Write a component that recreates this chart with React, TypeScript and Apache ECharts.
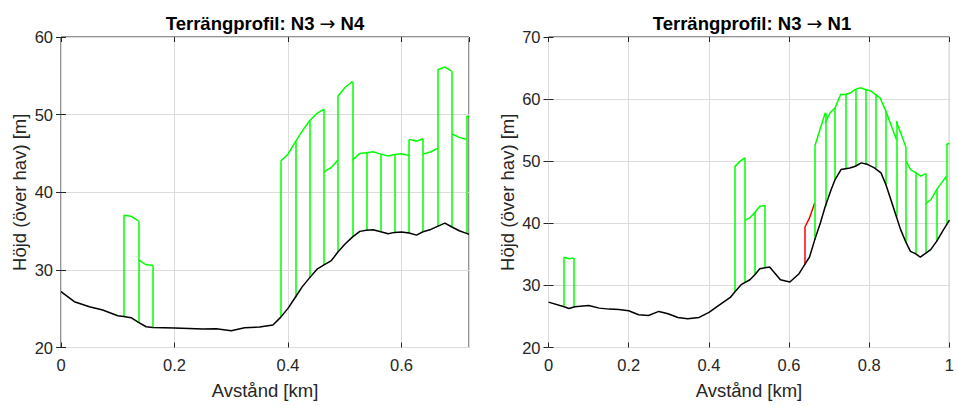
import React, { useEffect, useRef } from "react";
import * as echarts from "echarts";

// ---------- Left profile: N3 -> N4 ----------
const leftTerrainX = [0, 0.0235, 0.05, 0.0735, 0.1, 0.1106, 0.1235, 0.1365, 0.15, 0.1618, 0.2, 0.25, 0.2735, 0.3, 0.3235, 0.35, 0.3735, 0.387, 0.4, 0.413, 0.4253, 0.438, 0.4512, 0.4635, 0.4765, 0.488, 0.501, 0.5135, 0.5265, 0.538, 0.55, 0.5635, 0.5765, 0.588, 0.6, 0.6135, 0.6265, 0.638, 0.6518, 0.6635, 0.6765, 0.689, 0.7018, 0.7147, 0.719];
const leftTerrainY = [27.2, 25.9, 25.26, 24.83, 24.1, 24.0, 23.84, 23.23, 22.67, 22.59, 22.5, 22.37, 22.41, 22.16, 22.54, 22.63, 22.89, 23.88, 25.04, 26.47, 27.84, 28.97, 30.09, 30.65, 31.2, 32.3, 33.36, 34.22, 34.96, 35.09, 35.17, 34.91, 34.66, 34.83, 34.87, 34.74, 34.48, 34.91, 35.21, 35.6, 36.03, 35.52, 35.04, 34.7, 34.57];

// obstacle tops (green outline), one list of [x, y] per piece
const leftTops: number[][][] = [
  [[0.1106, 37.03], [0.1235, 36.9], [0.1365, 36.3]],
  [[0.1365, 31.3], [0.15, 30.65], [0.1618, 30.6]],
  [[0.387, 44.0], [0.4, 44.9], [0.413, 46.5], [0.4253, 47.9], [0.438, 49.2], [0.4512, 50.17], [0.4635, 50.69]],
  [[0.4635, 42.63], [0.4765, 43.2], [0.488, 44.14]],
  [[0.488, 52.41], [0.501, 53.53], [0.5135, 54.27]],
  [[0.5135, 44.14], [0.5265, 45.0], [0.538, 45.09], [0.55, 45.22], [0.5635, 44.91], [0.5765, 44.66], [0.588, 44.87], [0.6, 44.96], [0.6135, 44.74]],
  [[0.6135, 46.81], [0.6265, 46.59], [0.638, 46.9]],
  [[0.638, 44.91], [0.6518, 45.22], [0.6635, 45.65]],
  [[0.6635, 55.78], [0.6765, 56.12], [0.689, 55.56]],
  [[0.689, 47.5], [0.7018, 47.07], [0.7147, 46.8]],
  [[0.7147, 49.83], [0.719, 49.66]],
];
// vertical posts: [x, ground, top]
const leftPosts: number[][] = [
  [0.1106, 24.0, 37.03], [0.1365, 23.23, 36.3], [0.1618, 22.59, 30.6],
  [0.387, 23.88, 44.0], [0.413, 26.47, 46.5], [0.438, 28.97, 49.2], [0.4635, 30.65, 50.69],
  [0.488, 32.3, 52.41], [0.5135, 34.22, 54.27], [0.538, 35.09, 45.09], [0.5635, 34.91, 44.91],
  [0.588, 34.83, 44.87], [0.6135, 34.74, 46.81], [0.638, 34.91, 46.9], [0.6635, 35.6, 55.78],
  [0.689, 35.52, 55.56], [0.7147, 34.7, 49.83],
];

// ---------- Right profile: N3 -> N1 ----------
const rightTerrainX = [0, 0.0368, 0.0515, 0.0654, 0.1005, 0.1266, 0.1511, 0.1757, 0.2, 0.2247, 0.2492, 0.2753, 0.2982, 0.3227, 0.3472, 0.3758, 0.4003, 0.4248, 0.4534, 0.4657, 0.4804, 0.5025, 0.5147, 0.527, 0.5515, 0.5784, 0.6021, 0.625, 0.6389, 0.6511, 0.6642, 0.6781, 0.6904, 0.7051, 0.7149, 0.7296, 0.7516, 0.7655, 0.7802, 0.7966, 0.8129, 0.8293, 0.8415, 0.8538, 0.866, 0.8783, 0.8905, 0.9028, 0.915, 0.9273, 0.9395, 0.9534, 0.9681, 0.9828, 1.0];
const rightTerrainY = [27.31, 26.61, 26.29, 26.56, 26.77, 26.34, 26.18, 26.13, 25.91, 25.27, 25.16, 25.81, 25.43, 24.84, 24.62, 24.84, 25.65, 26.77, 28.06, 29.03, 30.11, 30.91, 31.72, 32.69, 32.96, 30.91, 30.54, 31.88, 33.33, 34.57, 37.37, 40.05, 42.74, 45.43, 47.04, 48.66, 48.92, 49.19, 49.73, 49.46, 48.92, 48.12, 46.24, 43.82, 41.4, 38.98, 37.1, 35.48, 35.11, 34.57, 35.11, 35.75, 37.1, 38.71, 40.5];

const rightTops: number[][][] = [
  [[0.0384, 34.52], [0.0515, 34.3], [0.0629, 34.4]],
  [[0.464, 49.09], [0.478, 50.0], [0.49, 50.54]],
  [[0.49, 40.48], [0.502, 40.86], [0.515, 41.77], [0.527, 42.74], [0.54, 42.85]],
  [[0.6642, 52.42], [0.6773, 55.11], [0.6904, 57.8]],
  [[0.6904, 56.18], [0.7026, 57.8], [0.7149, 58.6], [0.7288, 60.75], [0.741, 60.75], [0.7533, 61.02], [0.7655, 61.56], [0.7778, 61.83], [0.7908, 61.56], [0.8047, 61.29], [0.8154, 60.75], [0.8268, 60.22], [0.8415, 58.06], [0.8538, 55.91], [0.8676, 53.49]],
  [[0.8676, 56.45], [0.8799, 54.3], [0.8922, 52.15]],
  [[0.8922, 50.0], [0.9028, 48.66], [0.9167, 48.12], [0.9289, 47.58], [0.9412, 48.01]],
  [[0.9412, 43.17], [0.9542, 43.82], [0.9681, 45.43], [0.9804, 46.51], [0.9926, 47.58]],
  [[0.9926, 52.69], [1.0, 52.9]],
];
const rightPosts: number[][] = [
  [0.0384, 26.6, 34.52], [0.0629, 26.45, 34.4],
  [0.464, 29.0, 49.09], [0.49, 30.5, 50.54], [0.515, 31.72, 41.77], [0.54, 32.9, 42.85],
  [0.6642, 37.37, 52.42], [0.6904, 42.74, 57.8], [0.7149, 47.04, 58.6], [0.741, 48.8, 60.75],
  [0.7655, 49.19, 61.56], [0.7908, 49.5, 61.56], [0.8154, 48.85, 60.75], [0.8415, 46.24, 58.06],
  [0.8676, 41.1, 56.45], [0.8922, 37.0, 52.15], [0.9167, 35.05, 48.12], [0.9412, 35.15, 48.01],
  [0.9681, 37.1, 45.43], [0.9926, 39.9, 52.69],
];
// blocked piece (red)
const rightRedTops: number[][][] = [[[0.6397, 39.41], [0.651, 40.86], [0.664, 43.28]]];
const rightRedPosts: number[][] = [[0.6397, 33.33, 39.41]];

const leftTitleParts = ["Terrängprofil: N3 ", "→", " N4"];
const rightTitleParts = ["Terrängprofil: N3 ", "→", " N1"];
const xName = "Avstånd [km]";
const yName = "Höjd (över hav) [m]";
const leftXMax = 0.719;
const rightXMax = 1;
const leftYRange = [20, 60];
const rightYRange = [20, 70];

const FONT = '"Liberation Sans", Arial, Helvetica, sans-serif';
const AX = "#262626";
const GRIDC = "#dcdcdc";
const GREEN = "#00ff00";
const RED = "#ff0000";

function xAxes(gridIndex: number, max: number, hideMax: boolean) {
  const base = {
    type: "value" as const,
    gridIndex,
    min: 0,
    max,
    interval: 0.2,
    axisLine: { show: false },
    axisTick: { show: true, inside: true, length: 5, lineStyle: { color: AX, width: 1 } },
  };
  return [
    {
      ...base,
      position: "bottom",
      axisLabel: {
        show: true, color: AX, fontSize: 16.5, fontFamily: FONT, margin: 9,
        showMaxLabel: !hideMax,
        formatter: (v: number) => String(Math.round(v * 10) / 10),
      },
      splitLine: { show: true, lineStyle: { color: GRIDC, width: 1 } },
      name: xName,
      nameLocation: "middle",
      nameGap: 33,
      nameTextStyle: { color: AX, fontSize: 18.5, fontFamily: FONT },
    },
    { ...base, position: "top", axisLabel: { show: false }, splitLine: { show: false } },
  ];
}

function yAxes(gridIndex: number, range: number[]) {
  const base = {
    type: "value" as const,
    gridIndex,
    min: range[0],
    max: range[1],
    interval: 10,
    axisLine: { show: false },
    axisTick: { show: true, inside: true, length: 5, lineStyle: { color: AX, width: 1 } },
  };
  return [
    {
      ...base,
      position: "left",
      axisLabel: { show: true, color: AX, fontSize: 16.5, fontFamily: FONT, margin: 8 },
      splitLine: { show: true, lineStyle: { color: GRIDC, width: 1 } },
      name: yName,
      nameLocation: "middle",
      nameGap: 32,
      nameTextStyle: { color: AX, fontSize: 18.5, fontFamily: FONT },
    },
    { ...base, position: "right", axisLabel: { show: false }, splitLine: { show: false } },
  ];
}

function profileSeries(axisIdx: number, tops: number[][][], posts: number[][], color: string, z: number) {
  return [
    {
      type: "lines", coordinateSystem: "cartesian2d", xAxisIndex: axisIdx, yAxisIndex: axisIdx,
      polyline: true, silent: true, z,
      data: tops.map((s) => ({ coords: s })),
      lineStyle: { color, width: 1.5, opacity: 1 },
    },
    {
      type: "lines", coordinateSystem: "cartesian2d", xAxisIndex: axisIdx, yAxisIndex: axisIdx,
      polyline: false, silent: true, z,
      data: posts.map((p) => ({ coords: [[p[0], p[1]], [p[0], p[2]]] })),
      lineStyle: { color, width: 1.5, opacity: 1 },
    },
  ];
}

function terrainSeries(axisIdx: number, tx: number[], ty: number[]) {
  return {
    type: "line", xAxisIndex: axisIdx, yAxisIndex: axisIdx, symbol: "none", silent: true, z: 5,
    data: tx.map((x, i) => [x, ty[i]]),
    lineStyle: { color: "#000", width: 1.5 },
  };
}

function titleText(parts: string[], x: number) {
  return {
    type: "text", x, y: 23, silent: true,
    style: {
      text: `{a|${parts[0]}}{b|${parts[1]}}{a|${parts[2]}}`,
      align: "center", verticalAlign: "middle",
      rich: {
        a: { fontSize: 18.5, fontWeight: "bold", fontFamily: FONT, fill: "#000", color: "#000" },
        b: { fontSize: 19, fontWeight: "normal", fontFamily: '"DejaVu Sans", sans-serif', fill: "#000", color: "#000" },
      },
    },
  };
}

export default function App() {
  const ref = useRef<HTMLDivElement>(null);
  useEffect(() => {
    if (!ref.current) return;
    const chart = echarts.init(ref.current, null, { renderer: "svg" });
    const gridBase = { show: true, borderColor: AX, borderWidth: 1, backgroundColor: "#fff", containLabel: false };
    chart.setOption({
      animation: false,
      backgroundColor: "#fff",
      textStyle: { fontFamily: FONT },
      grid: [
        { ...gridBase, left: 61, top: 37, width: 408, height: 310.5 },
        { ...gridBase, left: 548.5, top: 37, width: 407, height: 310.5 },
      ],
      xAxis: [...xAxes(0, leftXMax, true), ...xAxes(1, rightXMax, false)],
      yAxis: [...yAxes(0, leftYRange), ...yAxes(1, rightYRange)],
      graphic: [titleText(leftTitleParts, 265), titleText(rightTitleParts, 752)],
      series: [
        ...profileSeries(0, leftTops, leftPosts, GREEN, 3),
        terrainSeries(0, leftTerrainX, leftTerrainY),
        ...profileSeries(2, rightTops, rightPosts, GREEN, 3),
        ...profileSeries(2, rightRedTops, rightRedPosts, RED, 2),
        terrainSeries(2, rightTerrainX, rightTerrainY),
      ],
    });
    return () => chart.dispose();
  }, []);
  return <div ref={ref} style={{ position: "fixed", left: 0, top: 0, width: 957, height: 406 }} />;
}
